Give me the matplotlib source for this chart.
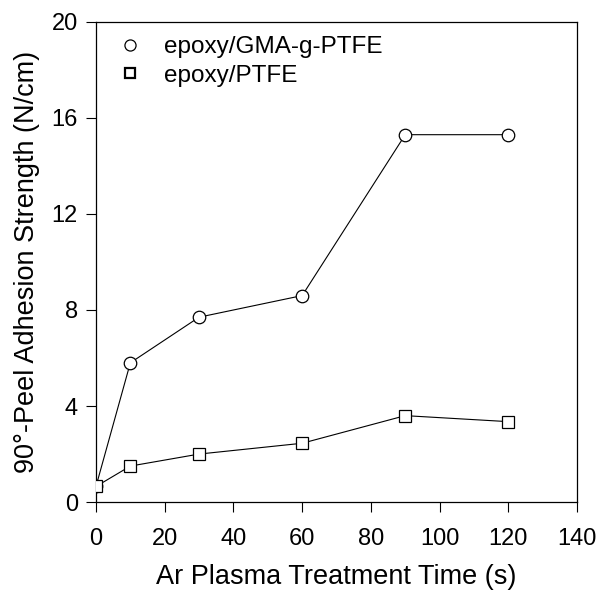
import matplotlib.pyplot as plt
from matplotlib.lines import Line2D

plt.rcParams['font.family'] = ['Liberation Sans', 'DejaVu Sans']

time_s = [0, 10, 30, 60, 90, 120]
gma_ptfe = [0.65, 5.8, 7.7, 8.6, 15.3, 15.3]
ptfe = [0.65, 1.5, 2.0, 2.45, 3.6, 3.35]

fig = plt.figure(figsize=(5.98, 5.90), dpi=100)
ax = fig.add_axes([0.1605, 0.149, 0.8045, 0.814])

ax.plot(time_s, gma_ptfe, color='black', lw=0.8, marker='o', ms=9,
        mfc='white', mec='black', mew=0.9, zorder=3)
ax.plot(time_s, ptfe, color='black', lw=0.8, marker='s', ms=8,
        mfc='white', mec='black', mew=0.9, zorder=3)

ax.set_xlim(0, 140)
ax.set_ylim(0, 20)
ax.set_xticks(range(0, 141, 20))
ax.set_yticks(range(0, 21, 4))
ax.tick_params(direction='out', length=7, width=0.8, labelsize=17)
ax.tick_params(axis='x', pad=12)
ax.tick_params(axis='y', pad=6)
for s in ax.spines.values():
    s.set_linewidth(0.9)

ax.set_xlabel('Ar Plasma Treatment Time (s)', fontsize=19.5, labelpad=10)
ax.set_ylabel('90°-Peel Adhesion Strength (N/cm)', fontsize=19.5, labelpad=8)

handles = [
    Line2D([], [], ls='none', marker='o', ms=8, mfc='white', mec='black', mew=0.9),
    Line2D([], [], ls='none', marker='s', ms=7, mfc='white', mec='black', mew=1.6),
]
ax.legend(handles, ['epoxy/GMA-g-PTFE', 'epoxy/PTFE'], loc='upper left',
          frameon=False, fontsize=17.5, handlelength=1.0, handletextpad=0.9,
          labelspacing=0.25, borderaxespad=0.2, bbox_to_anchor=(0.015, 1.0))

fig.savefig('out.png', dpi=100)
